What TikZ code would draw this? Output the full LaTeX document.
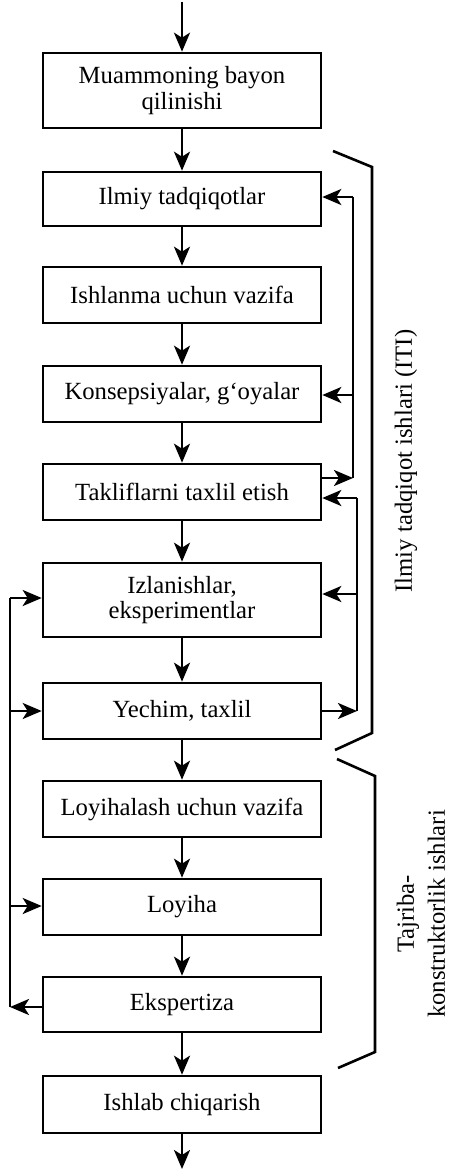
\documentclass[tikz,border=0pt]{standalone}
\usepackage{fontspec}
\setmainfont{Liberation Serif}
\usetikzlibrary{arrows.meta}
\begin{document}
\begin{tikzpicture}[x=1pt,y=-1pt,
  line width=2.6pt,
  >={Stealth[length=19pt,width=16pt,inset=5pt]},
  stepbox/.style={draw, rectangle, minimum width=278pt, minimum height=56pt,
    align=center, inner sep=2pt, font=\fontsize{24.7}{25.5}\selectfont},
  tallbox/.style={stepbox, minimum height=75pt},
  flow/.style={->},
  sidelabel/.style={rotate=90, align=center, font=\fontsize{24.7}{31}\selectfont}
]
\useasboundingbox (0,0) rectangle (449,1171);
% boxes
\node[tallbox] (b1) at (182,90.5) {Muammoning bayon\\qilinishi};
\node[stepbox, minimum height=54pt] (b2) at (182,199) {Ilmiy tadqiqotlar};
\node[stepbox] (b3) at (182,295) {Ishlanma uchun vazifa};
\node[stepbox] (b4) at (182,394) {Konsepsiyalar, g‘oyalar};
\node[stepbox] (b5) at (182,492) {Takliflarni taxlil etish};
\node[tallbox, minimum height=74pt] (b6) at (182,600) {Izlanishlar,\\eksperimentlar};
\node[stepbox] (b7) at (182,711) {Yechim, taxlil};
\node[stepbox] (b8) at (182,809) {Loyihalash uchun vazifa};
\node[stepbox] (b9) at (182,907) {Loyiha};
\node[stepbox, minimum height=55pt] (b10) at (182,1004.5) {Ekspertiza};
\node[stepbox, minimum height=57pt] (b11) at (182,1104.5) {Ishlab chiqarish};
% main flow
\coordinate (in) at (182,2);
\coordinate (out) at (182,1169);
\draw[flow] (in) -- (b1.north);
\draw[flow] (b1) -- (b2);
\draw[flow] (b2) -- (b3);
\draw[flow] (b3) -- (b4);
\draw[flow] (b4) -- (b5);
\draw[flow] (b5) -- (b6);
\draw[flow] (b6) -- (b7);
\draw[flow] (b7) -- (b8);
\draw[flow] (b8) -- (b9);
\draw[flow] (b9) -- (b10);
\draw[flow] (b10) -- (b11);
\draw[flow] (b11.south) -- (out);
% right feedback line A
\coordinate (A1) at (353,197);
\coordinate (A2) at (353,395);
\coordinate (A3) at (353,478);
\draw (A3) -- (A1);
\draw[flow] (A1) -- (A1 -| b2.east);
\draw[flow] (A2) -- (A2 -| b4.east);
\draw[flow] (A3 -| b5.east) -- (A3);
% right feedback line B
\coordinate (B1) at (357,498);
\coordinate (B2) at (357,594);
\coordinate (B3) at (357,711);
\draw (B3) -- (B1);
\draw[flow] (B1) -- (B1 -| b5.east);
\draw[flow] (B2) -- (B2 -| b6.east);
\draw[flow] (B3 -| b7.east) -- (B3);
% left feedback line
\coordinate (L1) at (10,598);
\coordinate (L2) at (10,711);
\coordinate (L3) at (10,906);
\coordinate (L4) at (10,1007);
\draw (L4) -- (L1);
\draw[flow] (L1) -- (L1 -| b6.west);
\draw[flow] (L2) -- (L2 -| b7.west);
\draw[flow] (L3) -- (L3 -| b9.west);
\draw[flow] (L4 -| b10.west) -- (L4);
% braces
\coordinate (p1) at (333,151);
\coordinate (p2) at (372,167);
\coordinate (p3) at (372,733);
\coordinate (p4) at (335,750);
\draw[line join=miter] (p1) -- (p2) -- (p3) -- (p4);
\coordinate (q1) at (337,759);
\coordinate (q2) at (375,776);
\coordinate (q3) at (375,1052);
\coordinate (q4) at (338,1068);
\draw[line join=miter] (q1) -- (q2) -- (q3) -- (q4);
% labels
\node[sidelabel] (lab1) at (406,461) {Ilmiy tadqiqot ishlari (ITI)};
\node[sidelabel] (lab2) at (421,914) {Tajriba-\\konstruktorlik ishlari};
\end{tikzpicture}
\end{document}
